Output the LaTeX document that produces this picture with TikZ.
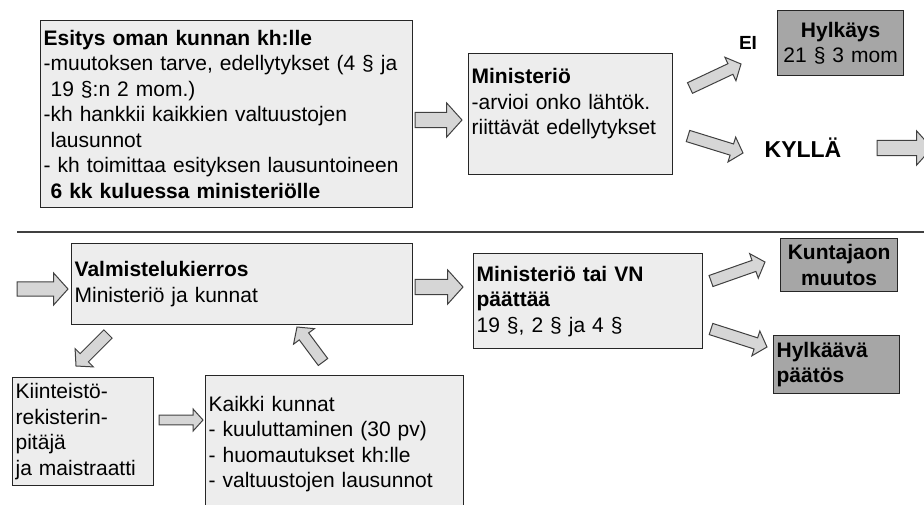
\documentclass[tikz,border=0pt]{standalone}
\usepackage{fontspec}
\setmainfont{Liberation Sans}
\usetikzlibrary{calc}

\newcommand{\fs}{\fontsize{21}{25.5}\selectfont}
\tikzset{
  box/.style={draw=black!85, fill=black!7, line width=1.3pt, anchor=north west, align=left, inner sep=3pt, font=\fs},
  darkbox/.style={box, fill=black!35, inner ysep=1pt},
  blockarr/.style={draw=black!75, fill=black!16, line width=1pt},
}
% block arrow from #2 to #3, head half width #1
\newcommand{\blockarrow}[3][15]{%
  \draw[blockarr] let \p1=($(#3)-(#2)$), \n1={atan2(\y1,\x1)}, \n2={veclen(\x1,\y1)} in
    ($(#2)+(\n1+90:0.45*#1)$) -- ($(#2)+(\n1:\n2-0.9*#1)+(\n1+90:0.45*#1)$)
    -- ($(#2)+(\n1:\n2-0.9*#1)+(\n1+90:#1)$) -- (#3)
    -- ($(#2)+(\n1:\n2-0.9*#1)+(\n1-90:#1)$) -- ($(#2)+(\n1:\n2-0.9*#1)+(\n1-90:0.45*#1)$)
    -- ($(#2)+(\n1-90:0.45*#1)$) -- cycle;
}

\begin{document}
\begin{tikzpicture}[x=1pt, y=1pt]
  \useasboundingbox (0,0) rectangle (924,-504);
  \clip (0,0) rectangle (924,-504);

  %ilmoitus
    \node[box, text width=366pt, minimum height=187pt] (esitys) at (40,-20) {\textbf{Esitys oman kunnan kh:lle}\\-muutoksen tarve, edellytykset (4 § ja\\\ 19 §:n 2 mom.)\\-kh hankkii kaikkien valtuustojen\\\ lausunnot\\- kh toimittaa esityksen lausuntoineen\\\ \textbf{6 kk kuluessa ministeriölle}};
    \node[box, text width=198pt, minimum height=121pt] (ministerio) at (468,-53) {\textbf{Ministeriö}\\-arvioi onko lähtök.\\riittävät edellytykset\\~};
    \node[darkbox, text width=120pt, minimum height=65pt, align=center] (hylkays) at (777,-10) {\textbf{Hylkäys}\\21 § 3 mom};
    \node[font=\fontsize{19}{24}\selectfont\bfseries] (ei) at (748,-43) {EI};
    \node[font=\fontsize{23}{26}\selectfont\bfseries] (kylla) at (803,-148) {KYLLÄ};

    \draw[black!75, line width=1.2pt] (17,-232) -- (924,-232);

  %kuntajaon muutos
    \node[box, text width=335pt, minimum height=81pt] (valmistelu) at (71,-243) {\textbf{Valmistelukierros}\\Ministeriö ja kunnat};
    \node[box, text width=223pt, minimum height=95pt] (paattaa) at (473,-253) {\textbf{Ministeriö tai VN}\\\textbf{päättää}\\19 §, 2 § ja 4 §};
    \node[darkbox, text width=111pt, minimum height=53pt, align=center] (muutos) at (780,-238) {\textbf{Kuntajaon}\\\textbf{muutos}};
    \node[darkbox, text width=120pt, minimum height=58pt] (hylkaava) at (773,-335) {\textbf{Hylkäävä}\\\textbf{päätös}};
    \node[box, text width=135pt, minimum height=108pt] (kiinteisto) at (12,-377) {Kiinteistö-\\rekisterin-\\pitäjä\\ja maistraatti};
    \node[box, text width=252pt, minimum height=137pt] (kunnat) at (205,-375) {Kaikki kunnat\\- kuuluttaminen (30 pv)\\- huomautukset kh:lle\\- valtuustojen lausunnot};

  %nuolet
    \coordinate (a1) at (415,-120); \coordinate (b1) at (462,-120);
    \coordinate (a2) at (690,-88);  \coordinate (b2) at (741,-64);
    \coordinate (a3) at (688,-136); \coordinate (b3) at (743,-153);
    \coordinate (a4) at (877,-148); \coordinate (b4) at (932,-148);
    \coordinate (a5) at (17,-289);  \coordinate (b5) at (68,-289);
    \coordinate (a6) at (415,-287); \coordinate (b6) at (463,-287);
    \coordinate (a7) at (711,-281); \coordinate (b7) at (765,-262);
    \coordinate (a8) at (711,-329); \coordinate (b8) at (767,-347);
    \coordinate (a9) at (108,-334); \coordinate (b9) at (76,-366);
    \coordinate (a10) at (323,-362); \coordinate (b10) at (297,-327);
    \coordinate (a11) at (159,-420); \coordinate (b11) at (203,-420);
    \blockarrow[17]{a1}{b1}
    \blockarrow[13]{a2}{b2}
    \blockarrow[13]{a3}{b3}
    \blockarrow[17]{a4}{b4}
    \blockarrow[16]{a5}{b5}
    \blockarrow[17]{a6}{b6}
    \blockarrow[13]{a7}{b7}
    \blockarrow[13]{a8}{b8}
    \blockarrow[13]{a9}{b9}
    \blockarrow[13]{a10}{b10}
    \blockarrow[11]{a11}{b11}
\end{tikzpicture}
\end{document}
